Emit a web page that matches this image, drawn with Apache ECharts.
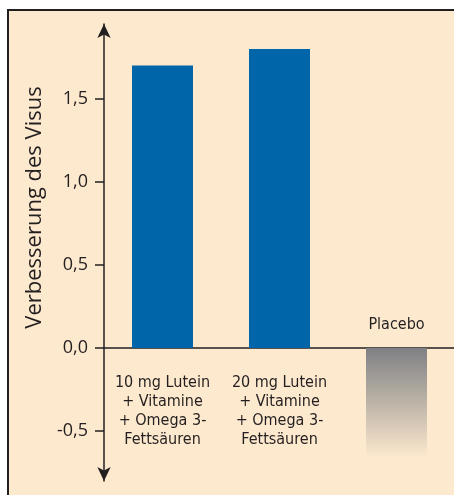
<!DOCTYPE html>
<html>
<head>
<meta charset="utf-8">
<script src="https://cdn.jsdelivr.net/npm/echarts@6/dist/echarts.min.js"></script>
<style>
  html, body { margin: 0; padding: 0; background: #ffffff; }
  #chart { width: 454px; height: 495px; }
</style>
</head>
<body>
<div id="chart"></div>
<script>
// Visual acuity improvement per treatment group
const categories = [
  '10 mg Lutein\n+ Vitamine\n+ Omega 3-\nFettsäuren',
  '20 mg Lutein\n+ Vitamine\n+ Omega 3-\nFettsäuren',
  'Placebo'
];
const improvement = [1.7, 1.8, -0.66];
const tickValues = [-0.5, 0, 0.5, 1.0, 1.5];
const axisTitle = 'Verbesserung des Visus';

const bg = '#fde9ce';
const ink = '#231f20';
const narrow = '"Liberation Sans Narrow", "DejaVu Sans Condensed", "Liberation Sans", sans-serif';

const chart = echarts.init(document.getElementById('chart'), null, { renderer: 'canvas' });

const fmt = v => v.toFixed(1).replace('.', ',');

// Group names sit on the side of the zero line opposite to the bar
const groupLabel = {
  show: true,
  formatter: '{b}',
  color: ink,
  fontFamily: narrow,
  fontSize: 16,
  lineHeight: 19,
  align: 'center'
};

chart.setOption({
  animation: false,
  backgroundColor: '#ffffff',
  graphic: [{
    type: 'rect',
    z: -10,
    shape: { x: 8, y: 10, width: 470, height: 500 },
    style: { fill: bg, stroke: ink, lineWidth: 2 }
  }],
  grid: { left: 104, top: 24, width: 351, bottom: 14, outerBoundsMode: 'none', containLabel: false },
  xAxis: {
    type: 'category',
    data: categories,
    axisLine: { onZero: true, lineStyle: { color: ink, width: 1.5 } },
    axisTick: { show: false },
    axisLabel: { show: false }
  },
  yAxis: {
    type: 'value',
    min: -0.8,
    max: 1.95,
    name: axisTitle,
    nameLocation: 'middle',
    nameGap: 54,
    nameTextStyle: {
      color: ink,
      fontFamily: '"Open Sans", sans-serif',
      fontSize: 22,
      padding: [0, 0, 0, 90]
    },
    splitLine: { show: false },
    axisLine: {
      show: true,
      symbol: ['arrow', 'arrow'],
      symbolSize: [10, 14],
      lineStyle: { color: ink, width: 1.5 }
    },
    axisTick: {
      show: true,
      length: 9,
      customValues: tickValues,
      lineStyle: { color: ink, width: 1.5 }
    },
    axisLabel: {
      margin: 16,
      color: ink,
      fontFamily: '"Open Sans", sans-serif',
      fontSize: 18,
      customValues: tickValues,
      formatter: fmt
    }
  },
  series: [{
    type: 'bar',
    barWidth: 61,
    data: improvement.map(v => v >= 0
      ? {
          value: v,
          itemStyle: { color: '#0066a9' },
          label: Object.assign({}, groupLabel, { position: 'bottom', distance: 25 })
        }
      : {
          value: v,
          itemStyle: {
            color: new echarts.graphic.LinearGradient(0, 0, 0, 1, [
              { offset: 0, color: '#7f8084' },
              { offset: 0.5, color: '#bdb4a8' },
              { offset: 1, color: bg }
            ])
          },
          label: Object.assign({}, groupLabel, { position: 'top', distance: 14 })
        })
  }]
});
</script>
</body>
</html>
